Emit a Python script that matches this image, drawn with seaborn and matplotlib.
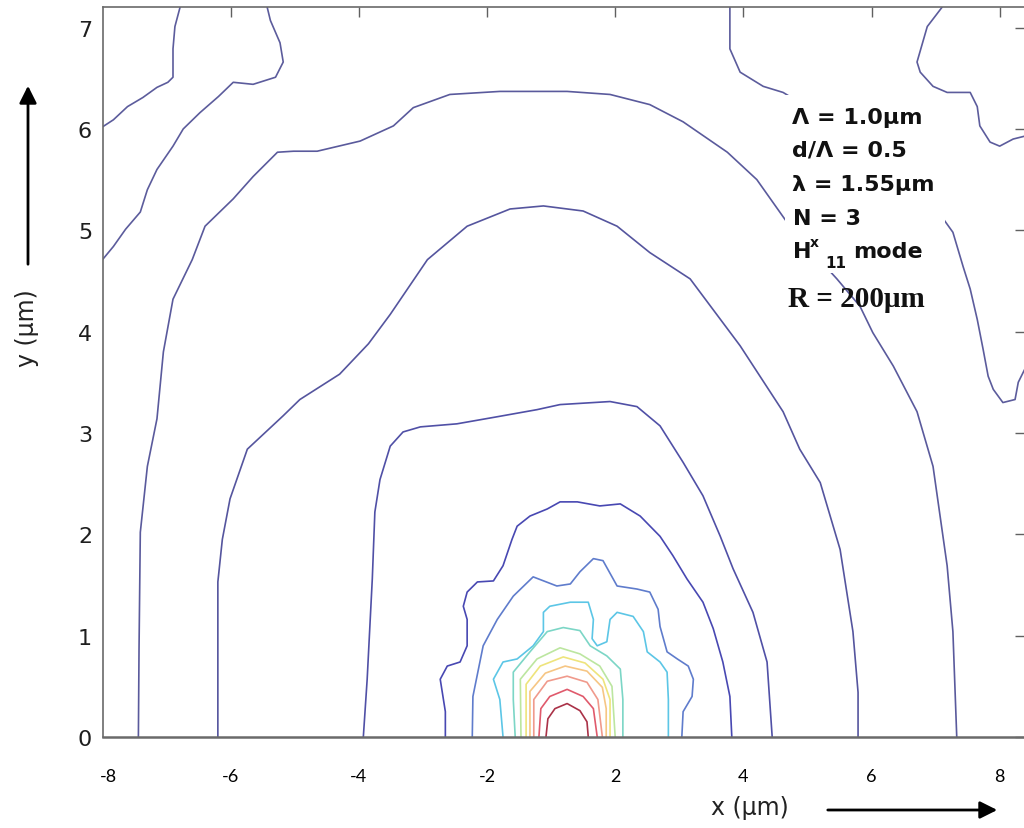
import matplotlib
matplotlib.use("Agg")
import matplotlib.pyplot as plt
import seaborn as sns
from matplotlib.patches import Rectangle

# ---------------- data: contour lines (x in axis units, y in µm) -------------
# outer level (top-left pieces)
a_x = [-5.79, -5.87, -5.90, -5.90, -5.98, -6.15, -6.37, -6.61, -6.83, -7.00]
a_y = [7.20, 7.01, 6.79, 6.51, 6.46, 6.41, 6.31, 6.22, 6.09, 6.02]
b_x = [-7.00, -6.83, -6.64, -6.41, -6.30, -6.15, -5.90, -5.74, -5.48, -5.19, -4.96, -4.65, -4.30, -4.18, -4.23, -4.38, -4.43]
b_y = [4.71, 4.84, 5.01, 5.18, 5.40, 5.60, 5.83, 6.00, 6.16, 6.32, 6.46, 6.44, 6.51, 6.66, 6.85, 7.07, 7.20]
# top-right pieces
f_x = [2.79, 2.79, 2.95, 3.31, 3.62, 4.82, 5.76, 6.10, 6.27, 6.43, 6.54, 6.65, 6.74, 6.82, 6.90, 7.05, 7.24, 7.29, 7.40]
f_y = [7.20, 6.79, 6.56, 6.42, 6.36, 5.90, 5.36, 5.13, 4.98, 4.64, 4.42, 4.12, 3.83, 3.56, 3.43, 3.30, 3.33, 3.50, 3.64]
g_x = [6.10, 5.87, 5.71, 5.76, 5.96, 6.18, 6.54, 6.65, 6.69, 6.85, 7.00, 7.21, 7.40]
g_y = [7.20, 7.01, 6.66, 6.56, 6.42, 6.36, 6.36, 6.22, 6.03, 5.87, 5.83, 5.90, 5.93]
# big arches
c_x = [-6.44, -6.43, -6.41, -6.30, -6.15, -6.05, -5.90, -5.60, -5.40, -4.96, -4.65, -4.27, -4.02, -3.65,
       -2.98, -2.46, -2.15, -1.58, -0.80, 0.25, 0.92, 1.54, 2.06, 2.75, 3.21, 3.68, 4.07, 4.46, 4.82,
       5.02, 5.34, 5.71, 5.96, 6.18, 6.27, 6.33]
c_y = [0.00, 0.87, 2.02, 2.67, 3.14, 3.80, 4.32, 4.71, 5.04, 5.31, 5.53, 5.77, 5.78, 5.78,
       5.88, 6.03, 6.21, 6.34, 6.37, 6.37, 6.34, 6.24, 6.07, 5.77, 5.50, 5.08, 4.79, 4.52, 4.25,
       3.99, 3.66, 3.21, 2.67, 1.69, 1.04, 0.00]
d_x = [-5.20, -5.20, -5.13, -5.01, -4.74, -4.18, -3.92, -3.30, -2.85, -2.51, -1.93, -1.31, -0.64, -0.12, 0.50,
       1.03, 1.54, 2.17, 2.95, 3.62, 3.88, 4.20, 4.51, 4.71, 4.79, 4.79]
d_y = [0.00, 1.53, 1.95, 2.35, 2.84, 3.17, 3.33, 3.58, 3.88, 4.17, 4.71, 5.04, 5.21, 5.24, 5.19,
       5.04, 4.78, 4.52, 3.86, 3.21, 2.84, 2.51, 1.85, 1.04, 0.44, 0.00]
e_x = [-2.93, -2.87, -2.79, -2.75, -2.67, -2.51, -2.31, -2.04, -1.47, -0.84, -0.22, 0.14, 0.92, 1.34,
       1.70, 2.06, 2.37, 2.64, 2.84, 3.15, 3.37, 3.45]
e_y = [0.00, 0.57, 1.56, 2.22, 2.54, 2.87, 3.01, 3.06, 3.09, 3.16, 3.23, 3.28, 3.31, 3.26,
       3.07, 2.71, 2.38, 1.98, 1.66, 1.23, 0.74, 0.00]
# inner rings
i1_x = [-1.65, -1.65, -1.73, -1.62, -1.42, -1.31, -1.31, -1.37, -1.31, -1.15, -0.90, -0.75, -0.61, -0.53,
        -0.33, -0.06, 0.14, 0.41, 0.76, 1.08, 1.39, 1.70, 1.90, 2.12, 2.37, 2.53, 2.68, 2.79, 2.82]
i1_y = [0.00, 0.25, 0.57, 0.70, 0.74, 0.90, 1.16, 1.29, 1.43, 1.53, 1.54, 1.69, 1.95, 2.08,
        2.18, 2.25, 2.32, 2.32, 2.28, 2.30, 2.18, 1.98, 1.79, 1.56, 1.33, 1.07, 0.74, 0.40, 0.00]
blue_x = [-1.23, -1.22, -1.06, -0.84, -0.59, -0.28, 0.09, 0.30, 0.45, 0.66, 0.81, 1.03, 1.34, 1.54,
          1.67, 1.70, 1.81, 1.97, 2.14, 2.22, 2.20, 2.06, 2.04]
blue_y = [0.00, 0.40, 0.90, 1.16, 1.39, 1.58, 1.49, 1.51, 1.63, 1.76, 1.74, 1.49, 1.46, 1.43,
          1.26, 1.09, 0.84, 0.77, 0.70, 0.57, 0.40, 0.25, 0.00]
cyan_x = [-0.75, -0.80, -0.90, -0.75, -0.53, -0.28, -0.12, -0.12, -0.02, 0.30, 0.58, 0.66, 0.64, 0.72,
          0.87, 0.92, 1.03, 1.28, 1.44, 1.50, 1.70, 1.81, 1.83, 1.83]
cyan_y = [0.00, 0.37, 0.57, 0.74, 0.77, 0.90, 1.04, 1.23, 1.29, 1.33, 1.33, 1.16, 0.97, 0.90,
          0.94, 1.16, 1.23, 1.19, 1.04, 0.84, 0.74, 0.64, 0.37, 0.00]
teal_x = [-0.56, -0.59, -0.59, -0.33, -0.06, 0.19, 0.45, 0.61, 0.87, 1.08, 1.12, 1.12]
teal_y = [0.00, 0.37, 0.64, 0.84, 1.04, 1.08, 1.05, 0.90, 0.80, 0.67, 0.37, 0.00]
lgreen_x = [-0.47, -0.48, -0.22, 0.14, 0.45, 0.76, 0.95, 1.00]
lgreen_y = [0.00, 0.57, 0.77, 0.88, 0.82, 0.70, 0.50, 0.00]
yellow_x = [-0.39, -0.39, -0.17, 0.19, 0.53, 0.81, 0.92, 0.92]
yellow_y = [0.00, 0.52, 0.70, 0.79, 0.73, 0.57, 0.37, 0.00]
yorange_x = [-0.33, -0.33, -0.09, 0.22, 0.56, 0.80, 0.86, 0.86]
yorange_y = [0.00, 0.45, 0.63, 0.70, 0.65, 0.49, 0.28, 0.00]
orange_x = [-0.27, -0.27, -0.06, 0.25, 0.56, 0.73, 0.80]
orange_y = [0.00, 0.37, 0.55, 0.60, 0.54, 0.37, 0.00]
red_x = [-0.19, -0.16, -0.02, 0.25, 0.50, 0.66, 0.72]
red_y = [0.00, 0.28, 0.40, 0.47, 0.40, 0.28, 0.00]
dred_x = [-0.08, -0.05, 0.06, 0.25, 0.45, 0.56, 0.58]
dred_y = [0.00, 0.18, 0.28, 0.33, 0.26, 0.15, 0.00]

# tick labels as printed on the picture
xtick_pos = [-5, -3, -1, 1, 3, 5, 7]
xtick_lab = ["-6", "-4", "-2", "2", "4", "6", "8"]
ytick_pos = [0, 1, 2, 3, 4, 5, 6, 7]

contours = [
    (a_x, a_y, "#5c5c9c"), (b_x, b_y, "#5c5c9c"), (f_x, f_y, "#5c5c9c"), (g_x, g_y, "#5c5c9c"),
    (c_x, c_y, "#5a5a9c"), (d_x, d_y, "#55559e"), (e_x, e_y, "#5050a6"), (i1_x, i1_y, "#4848b2"),
    (blue_x, blue_y, "#5f7ccc"), (cyan_x, cyan_y, "#5cc6e6"), (teal_x, teal_y, "#7cd6c6"),
    (lgreen_x, lgreen_y, "#bce6a0"), (yellow_x, yellow_y, "#eee47c"), (yorange_x, yorange_y, "#f6c684"),
    (orange_x, orange_y, "#f09a8c"), (red_x, red_y, "#e05a6c"), (dred_x, dred_y, "#aa3248"),
]

# ---------------- figure ----------------
sns.set_theme(style="white")
plt.rcParams["font.family"] = ["DejaVu Sans"]
W, H = 1024, 829
fig = plt.figure(figsize=(W / 100, H / 100), dpi=100)
ax = fig.add_axes([102.5 / W, (H - 738) / H, (1025 - 102.5) / W, (738 - 8.3) / H])

for xs, ys, col in contours:
    sns.lineplot(x=xs, y=ys, sort=False, estimator=None, color=col, lw=1.2, ax=ax)

ax.set_xlim(-7.0, 7.395)
ax.set_ylim(0, 7.2)
ax.set_xlabel("")
ax.set_ylabel("")

ax.set_xticks(xtick_pos, labels=xtick_lab)
ax.set_xticks([-6.9], labels=["-8"], minor=True)
ax.set_yticks(ytick_pos, labels=[str(v) for v in ytick_pos])
ax.tick_params(axis="both", which="major", direction="in", length=7, width=1.0, color="#606060",
               top=True, right=True)
ax.tick_params(axis="x", which="both", pad=22, labelsize=13, labelcolor="black")
ax.tick_params(axis="x", which="minor", length=0, top=False)
ax.tick_params(axis="y", which="major", pad=7.5, labelsize=16, labelcolor="#1e1e1e")
for lab in ax.get_xticklabels(which="both"):
    lab.set_fontfamily("Lato")

for side, sp in ax.spines.items():
    sp.set_color("#6a6a6a")
    sp.set_linewidth(1.2)
ax.spines["bottom"].set_linewidth(1.8)


def ftxt(xp, yp, s, **kw):
    fig.text(xp / W, 1 - yp / H, s, **kw)


# white box behind parameter block (as in the picture)
fig.add_artist(Rectangle((785 / W, 1 - 274 / H), (945 - 785) / W, (274 - 96) / H,
                         transform=fig.transFigure, facecolor="white", edgecolor="none", zorder=2))

bold = dict(fontsize=16, fontweight="bold", color="#111111", va="baseline", ha="left", zorder=4)
ftxt(792, 124, "Λ = 1.0μm", **bold)
ftxt(792, 157, "d/Λ = 0.5", **bold)
ftxt(792, 191, "λ = 1.55μm", **bold)
ftxt(793, 225, "N = 3", **bold)
ftxt(793, 258, "H", **bold)
ftxt(810, 247, "x", fontsize=10, fontweight="bold", color="#111111", va="baseline", ha="left", zorder=4)
ftxt(825, 268, "11", fontsize=11, fontweight="bold", color="#111111", va="baseline", ha="left", zorder=4)
ftxt(853, 258, "mode", **bold)
ftxt(788, 307, "R = 200μm", fontsize=21, fontweight="bold", family="Liberation Serif",
     color="#111111", va="baseline", ha="left", zorder=4)

# axis titles with arrows
ftxt(27, 328, "y (μm)", fontsize=17, rotation=90, ha="center", va="center", color="#222222")
ftxt(750, 808, "x (μm)", fontsize=17, ha="center", va="center", color="#222222")
ax.annotate("", xy=(28, H - 84), xytext=(28, H - 268), xycoords="figure pixels",
            textcoords="figure pixels",
            arrowprops=dict(arrowstyle="-|>", lw=2, color="black", mutation_scale=26))
ax.annotate("", xy=(1000, H - 811), xytext=(825, H - 811), xycoords="figure pixels",
            textcoords="figure pixels",
            arrowprops=dict(arrowstyle="-|>", lw=2, color="black", mutation_scale=26))

fig.savefig("out.png", dpi=100)
